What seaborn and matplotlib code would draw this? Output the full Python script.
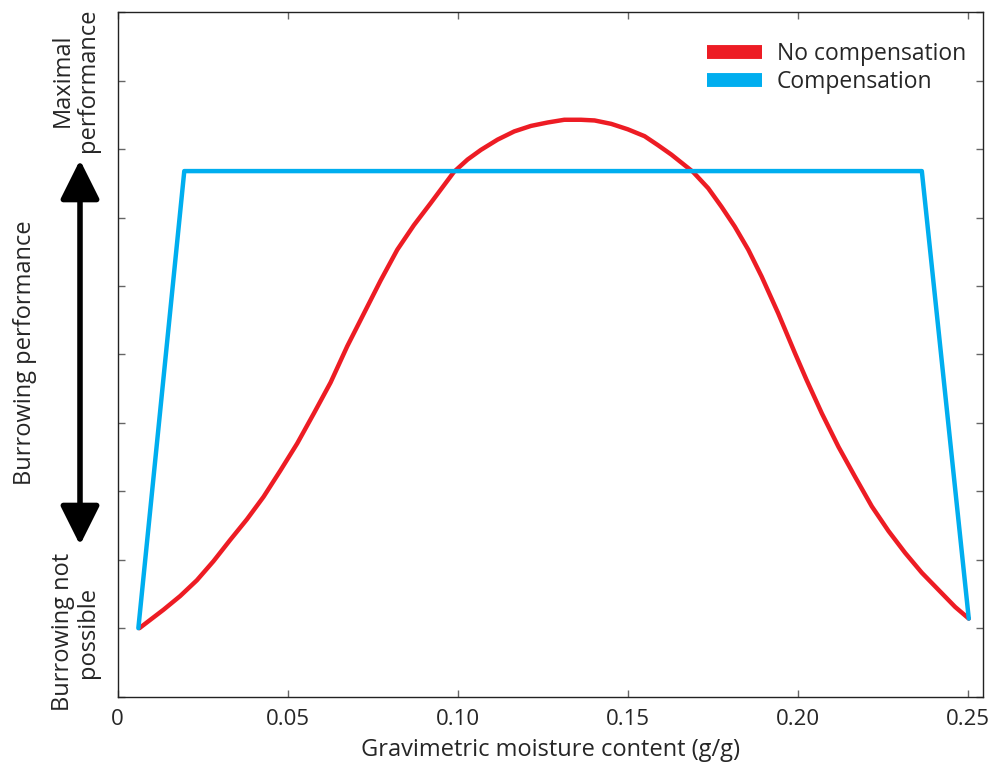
import matplotlib
matplotlib.use("Agg")
import matplotlib.pyplot as plt
import numpy as np
import pandas as pd
import seaborn as sns
from matplotlib.lines import Line2D

# ---------------------------------------------------------------------------
# Data
# ---------------------------------------------------------------------------
no_comp_x = [0.0064, 0.0135, 0.0184, 0.0233, 0.0282, 0.0331, 0.0380, 0.0429,
             0.0478, 0.0528, 0.0577, 0.0626, 0.0675, 0.0724, 0.0773, 0.0822,
             0.0871, 0.0920, 0.0989, 0.1029, 0.1068, 0.1117, 0.1166, 0.1215,
             0.1264, 0.1313, 0.1362, 0.1402, 0.1451, 0.1500, 0.1549, 0.1588,
             0.1628, 0.1691, 0.1736, 0.1775, 0.1814, 0.1854, 0.1893, 0.1942,
             0.1991, 0.2025, 0.2070, 0.2119, 0.2168, 0.2217, 0.2266, 0.2315,
             0.2364, 0.2413, 0.2462, 0.2502]
no_comp_y = [1.00, 1.27, 1.47, 1.70, 1.98, 2.29, 2.59, 2.92,
             3.30, 3.70, 4.14, 4.59, 5.12, 5.60, 6.08, 6.53,
             6.89, 7.21, 7.67, 7.85, 7.99, 8.14, 8.26, 8.34,
             8.39, 8.43, 8.43, 8.42, 8.37, 8.29, 8.19, 8.06,
             7.92, 7.67, 7.43, 7.16, 6.87, 6.53, 6.14, 5.60,
             5.02, 4.63, 4.14, 3.65, 3.21, 2.78, 2.42, 2.10,
             1.81, 1.56, 1.31, 1.14]

comp_x = [0.0061, 0.0196, 0.2364, 0.2502]
comp_y = [1.00, 7.68, 7.68, 1.14]

x_ticks = [0, 0.05, 0.10, 0.15, 0.20, 0.25]
x_tick_labels = ["0", "0.05", "0.10", "0.15", "0.20", "0.25"]
y_ticks = list(range(0, 11))

RED = "#ED1C24"
BLUE = "#00AEEF"

# ---------------------------------------------------------------------------
# Plot
# ---------------------------------------------------------------------------
sns.set_style("ticks")
plt.rcParams["font.family"] = ["Open Sans", "DejaVu Sans"]

fig = plt.figure(figsize=(9.95, 7.71), dpi=100)
ax = fig.add_axes([0.1182, 0.0965, 0.8698, 0.8875])

df_red = pd.DataFrame({"x": no_comp_x, "y": no_comp_y})
df_blue = pd.DataFrame({"x": comp_x, "y": comp_y})
sns.lineplot(data=df_red, x="x", y="y", ax=ax, color=RED, lw=3.2, sort=False,
             solid_joinstyle="round")
sns.lineplot(data=df_blue, x="x", y="y", ax=ax, color=BLUE, lw=3.2, sort=False)

ax.set_xlim(0, 0.2544)
ax.set_ylim(0, 10)
ax.set_xticks(x_ticks)
ax.set_xticklabels(x_tick_labels, fontsize=16)
ax.set_yticks(y_ticks)
ax.set_yticklabels([])
ax.tick_params(direction="in", length=5, color="#666666", top=True, right=True,
               width=1, pad=9)
for s in ax.spines.values():
    s.set_color("#222222")
    s.set_linewidth(1.0)

ax.set_xlabel("Gravimetric moisture content (g/g)", fontsize=17, labelpad=6)
ax.set_ylabel("")

# y-axis descriptive labels
fig.text(0.076, 1 - 80 / 771, "Maximal\nperformance", rotation=90,
         ha="center", va="center", fontsize=17, linespacing=1.05)
fig.text(0.076, 1 - 632 / 771, "Burrowing not\npossible", rotation=90,
         ha="center", va="center", fontsize=17, linespacing=1.05)
fig.text(0.025, 1 - 353 / 771, "Burrowing performance", rotation=90,
         ha="center", va="center", fontsize=17)

# double-headed arrow
ax.annotate("", xy=(80 / 995, 1 - 160 / 771), xytext=(80 / 995, 1 - 545 / 771),
            xycoords="figure fraction", textcoords="figure fraction",
            arrowprops=dict(arrowstyle="<|-|>,head_length=2.4,head_width=1.2",
                            lw=4, color="black", shrinkA=0, shrinkB=0),
            annotation_clip=False)

handles = [Line2D([0], [0], color=RED, lw=10, solid_capstyle="butt"),
           Line2D([0], [0], color=BLUE, lw=10, solid_capstyle="butt")]
ax.legend(handles, ["No compensation", "Compensation"], loc="upper right",
          bbox_to_anchor=(1.0, 0.982), frameon=False, fontsize=16.5,
          handlelength=2.4, handletextpad=0.65, borderaxespad=0.35,
          labelspacing=0.2)

fig.savefig("out.png", dpi=100)
